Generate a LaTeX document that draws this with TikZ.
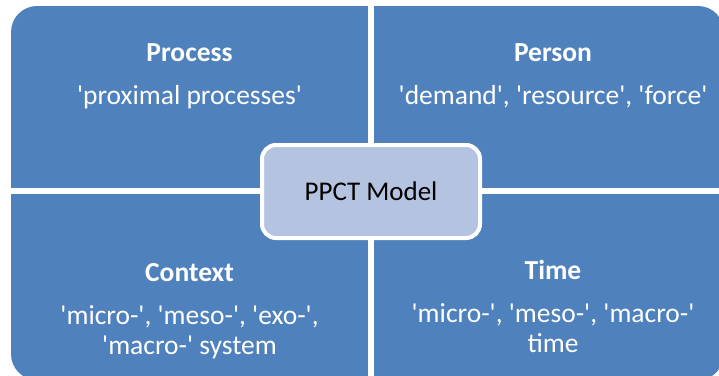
\documentclass[tikz,border=0pt]{standalone}
\usepackage{fontspec}
\setmainfont{Carlito}[Ligatures=TeXOff]
\definecolor{qblue}{RGB}{79,129,189}
\definecolor{cblue}{RGB}{180,196,224}
\begin{document}
\begin{tikzpicture}[x=1pt,y=-1pt,
  quad/.style={fill=qblue},
  ttl/.style={text=white,inner sep=0pt,anchor=base,font=\fontsize{27.5}{30}\selectfont\bfseries},
  sub/.style={text=white,inner sep=0pt,anchor=base,font=\fontsize{27.5}{30}\selectfont},
  center/.style={draw=white,line width=4pt,fill=cblue,rounded corners=14pt,minimum width=218pt,minimum height=93pt,inner sep=0pt,text=black,font=\fontsize{27}{30}\selectfont}]
\useasboundingbox (0,0) rectangle (719,375);
\begin{scope}
  \clip[rounded corners=26pt] (11,6) rectangle (724,380);
  \fill[quad] (11,6) rectangle (368,188);
  \fill[quad] (374,6) rectangle (724,188);
  \fill[quad] (11,193.5) rectangle (368,380);
  \fill[quad] (374,193.5) rectangle (724,380);
\end{scope}
\node[ttl] (procT) at (189.5,61) {Process};
\node[sub] (procS) at (189.5,104) {'proximal processes'};
\node[ttl] (persT) at (553,61) {Person};
\node[sub] (persS) at (553,104) {'demand', 'resource', 'force'};
\node[ttl] (ctxT) at (189.5,281) {Context};
\node[sub] (ctxS1) at (189.5,324) {'micro-', 'meso-', 'exo-',};
\node[sub] (ctxS2) at (189.5,354) {'macro-' system};
\node[ttl] (timeT) at (553,279) {Time};
\node[sub] (timeS1) at (553,322) {'micro-', 'meso-', 'macro-'};
\node[sub] (timeS2) at (553,352) {time};
\node[center] (ppct) at (371,191.5) {PPCT Model};
\end{tikzpicture}
\end{document}
